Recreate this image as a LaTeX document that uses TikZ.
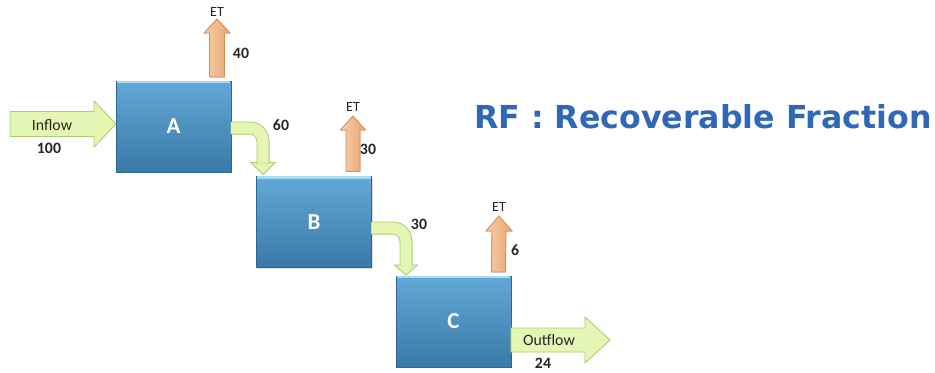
\documentclass[tikz,border=0pt]{standalone}
\usepackage{fontspec}
\setmainfont{Carlito}
\newfontfamily\rffont{DejaVu Sans}
\usepackage{tikz}
\usetikzlibrary{calc, shadows}

\definecolor{tankTop}{HTML}{62A8D6}
\definecolor{tankBot}{HTML}{3A79A8}
\definecolor{tankLine}{HTML}{2E6690}
\definecolor{tankRim}{HTML}{A4DCF4}
\definecolor{flowFill}{HTML}{E4F6B4}
\definecolor{flowLine}{HTML}{A9CC6C}
\definecolor{etLight}{HTML}{F7D0A8}
\definecolor{etFill}{HTML}{E9A46E}
\definecolor{etLine}{HTML}{D4905A}
\definecolor{rfBlue}{HTML}{2F68B8}

\begin{document}
\begin{tikzpicture}[x=0.02cm, y=-0.02cm,
  every node/.style={font=\fontsize{9}{10}\selectfont, inner sep=0pt, text=black!85},
  tank/.style={draw=tankLine, line width=0.4pt, top color=tankTop, bottom color=tankBot,
    minimum width=2.3cm, minimum height=1.82cm, outer sep=0pt,
    font=\fontsize{13}{15}\selectfont\bfseries, text=white,
    drop shadow={opacity=0.25, shadow xshift=0.8pt, shadow yshift=-0.8pt}},
  rim/.style={tankRim, line width=1.2pt},
  flow/.style={line width=0.5pt, draw=flowLine, double=flowFill, double distance=6.4pt},
  flowhead/.style={draw=flowLine, fill=flowFill, line width=0.5pt},
  ethead/.style={draw=etLine, left color=etLight, right color=etFill, line width=0.5pt},
  qty/.style={font=\fontsize{9}{10}\selectfont\bfseries},
  etlbl/.style={font=\fontsize{8}{9}\selectfont}]
  \useasboundingbox (0,0) rectangle (935,372);

  % tanks
  \node[tank] (A) at (173.5,126.5) {A};
  \node[tank] (B) at (314,222) {B};
  \node[tank] (C) at (453.5,321.5) {C};
  \foreach \t in {A,B,C}
    \draw[rim] ($(\t.north west)+(0.6,1)$) -- ($(\t.north east)+(-0.6,1)$);

  % inflow
  \coordinate (inTail) at (10,124);
  \coordinate (inTip) at ($(A.west)+(0,-2.5)$);
  \filldraw[flowhead] ($(inTail)+(0,-12.5)$) -- ($(inTip)+(-22,-12.5)$) -- ($(inTip)+(-22,-23)$) -- (inTip)
    -- ($(inTip)+(-22,23)$) -- ($(inTip)+(-22,12.5)$) -- ($(inTail)+(0,12.5)$) -- cycle;
  \node (inLbl) at (52,125) {Inflow};
  \node[qty] (inQty) at (49,148) {100};

  % evapotranspiration
  \coordinate (etAtip) at (217,19);
  \filldraw[ethead] ($(A.north)+(36,-4)$) -- ($(etAtip)+(-7.5,14)$) -- ($(etAtip)+(-13,14)$) -- (etAtip)
    -- ($(etAtip)+(13,14)$) -- ($(etAtip)+(7.5,14)$) -- ($(A.north)+(51,-4)$) -- cycle;
  \node[etlbl] (etA) at (217,12) {ET};
  \node[qty] (etAqty) at (241,53) {40};

  \coordinate (etBtip) at (353,116);
  \filldraw[ethead] ($(B.north)+(32,-5)$) -- ($(etBtip)+(-7,14)$) -- ($(etBtip)+(-12.5,14)$) -- (etBtip)
    -- ($(etBtip)+(12.5,14)$) -- ($(etBtip)+(7,14)$) -- ($(B.north)+(46,-5)$) -- cycle;
  \node[etlbl] (etB) at (353,107) {ET};
  \node[qty] (etBqty) at (368,149) {30};

  \coordinate (etCtip) at (499,216);
  \filldraw[ethead] ($(C.north)+(38,-4)$) -- ($(etCtip)+(-7,15)$) -- ($(etCtip)+(-13,15)$) -- (etCtip)
    -- ($(etCtip)+(13,15)$) -- ($(etCtip)+(7,15)$) -- ($(C.north)+(52,-4)$) -- cycle;
  \node[etlbl] (etC) at (499,207) {ET};
  \node[qty] (etCqty) at (515,250) {6};

  % recoverable flow A -> B
  \filldraw[flowhead] ($(B.north)+(-63,-14)$) -- ($(B.north)+(-51,-2)$) -- ($(B.north)+(-39,-14)$) -- cycle;
  \draw[flow, rounded corners=0.26cm] ($(A.east)+(0,1.5)$) -| ($(B.north)+(-51,-13)$);
  \node[qty] (abQty) at (281,125) {60};

  % recoverable flow B -> C
  \filldraw[flowhead] ($(C.north)+(-59,-11)$) -- ($(C.north)+(-47.5,-1)$) -- ($(C.north)+(-36,-11)$) -- cycle;
  \draw[flow, rounded corners=0.26cm] ($(B.east)+(0,6)$) -| ($(C.north)+(-47.5,-10)$);
  \node[qty] (bcQty) at (419,224) {30};

  % outflow
  \coordinate (outTip) at (610,340);
  \filldraw[flowhead] ($(C.east)+(0,6.5)$) -- ($(outTip)+(-25,-12)$) -- ($(outTip)+(-25,-23)$) -- (outTip)
    -- ($(outTip)+(-25,23)$) -- ($(outTip)+(-25,12)$) -- ($(C.east)+(0,30.5)$) -- cycle;
  \node (outLbl) at (549,340) {Outflow};
  \node[qty] (outQty) at (543,363) {24};

  \node[font=\rffont\fontsize{18}{20}\selectfont\bfseries, text=rfBlue, anchor=base west] (rf) at (474,128)
    {RF : Recoverable Fraction};
\end{tikzpicture}
\end{document}
